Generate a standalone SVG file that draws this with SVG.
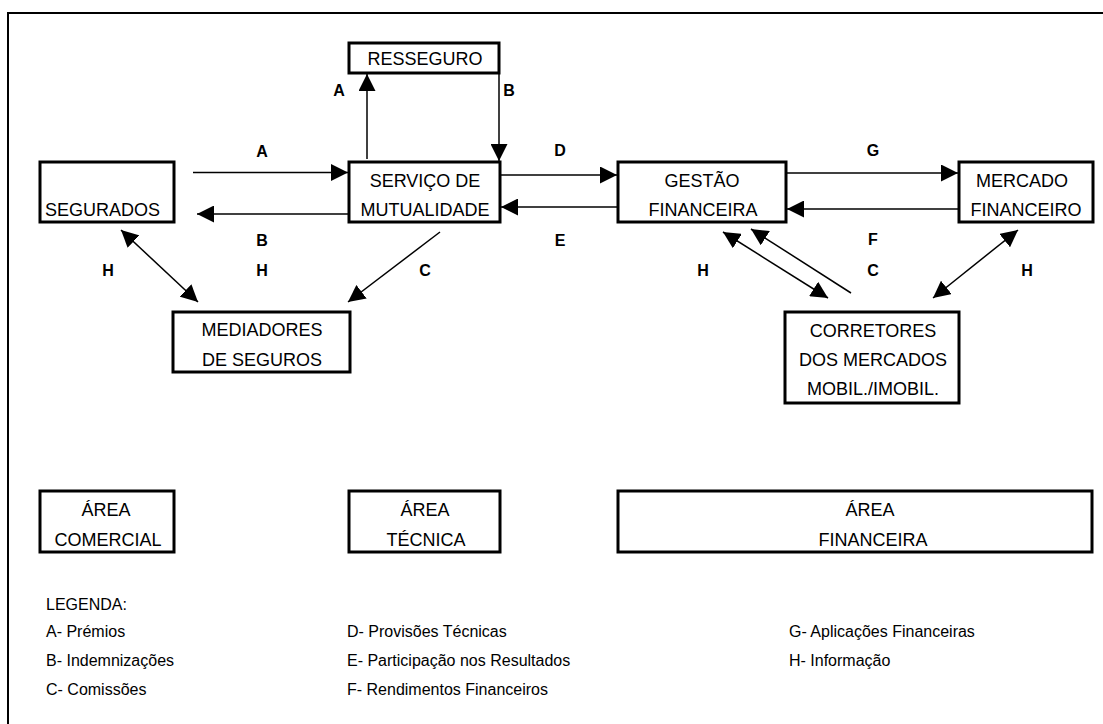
<svg xmlns="http://www.w3.org/2000/svg" width="1103" height="724" viewBox="0 0 1103 724">
<defs>
<marker id="ah" markerUnits="userSpaceOnUse" markerWidth="17" markerHeight="17" refX="17" refY="8.5" orient="auto-start-reverse">
<path d="M0,0 L17,8.5 L0,17 z" fill="#000"/>
</marker>
<style>
.box{fill:#fff;stroke:#000;stroke-width:3}
.t{font-family:"Liberation Sans",Arial,sans-serif;font-size:18px;fill:#000;text-anchor:middle}
.lab{font-family:"Liberation Sans",Arial,sans-serif;font-size:16px;font-weight:bold;fill:#000;text-anchor:middle}
.leg{font-family:"Liberation Sans",Arial,sans-serif;font-size:16px;fill:#000}
.c{fill:none;stroke:#000;stroke-width:1.5}
.one{marker-end:url(#ah)}
.two{marker-start:url(#ah);marker-end:url(#ah)}
</style>
</defs>
<rect width="1103" height="724" fill="#fff"/>
<path d="M8,724 V13 H1103" fill="none" stroke="#000" stroke-width="2"/>

<g id="connectors">
<line class="c one" x1="193" y1="172.5" x2="348" y2="172.5"/>
<line class="c one" x1="349" y1="214" x2="197" y2="214"/>
<line class="c one" x1="367" y1="159" x2="367" y2="74"/>
<line class="c one" x1="499" y1="74" x2="499" y2="161"/>
<line class="c one" x1="500" y1="175" x2="617" y2="175"/>
<line class="c one" x1="618" y1="207" x2="501" y2="207"/>
<line class="c one" x1="786" y1="173" x2="958" y2="173"/>
<line class="c one" x1="959" y1="209" x2="787" y2="209"/>
<line class="c two" x1="121" y1="230" x2="198" y2="302"/>
<line class="c one" x1="440" y1="232" x2="348" y2="302"/>
<line class="c two" x1="723" y1="232" x2="828" y2="298"/>
<line class="c one" x1="851" y1="293" x2="751" y2="229"/>
<line class="c two" x1="1018" y1="230" x2="933" y2="298"/>
</g>

<g id="labels">
<text class="lab" x="339" y="96">A</text>
<text class="lab" x="509" y="96">B</text>
<text class="lab" x="262" y="157">A</text>
<text class="lab" x="560" y="156">D</text>
<text class="lab" x="873" y="156">G</text>
<text class="lab" x="262" y="246">B</text>
<text class="lab" x="560" y="246">E</text>
<text class="lab" x="873" y="245">F</text>
<text class="lab" x="108" y="276">H</text>
<text class="lab" x="262" y="276">H</text>
<text class="lab" x="425" y="276">C</text>
<text class="lab" x="703" y="276">H</text>
<text class="lab" x="873" y="276">C</text>
<text class="lab" x="1027" y="276">H</text>
</g>

<g id="resseguro">
<rect class="box" x="349" y="43" width="150" height="30"/>
<text class="t" x="425" y="65">RESSEGURO</text>
</g>
<g id="segurados">
<rect class="box" x="40" y="162" width="134" height="60"/>
<text class="t" x="45" y="215.5" style="text-anchor:start">SEGURADOS</text>
</g>
<g id="servico">
<rect class="box" x="349" y="162" width="151" height="60"/>
<text class="t" x="425" y="186.5">SERVIÇO DE</text>
<text class="t" x="425" y="215.5">MUTUALIDADE</text>
</g>
<g id="gestao">
<rect class="box" x="618" y="162" width="168" height="60"/>
<text class="t" x="702" y="186.5">GESTÃO</text>
<text class="t" x="703" y="215.5">FINANCEIRA</text>
</g>
<g id="mercado">
<rect class="box" x="959" y="162" width="134" height="60"/>
<text class="t" x="1022" y="186.5">MERCADO</text>
<text class="t" x="1026" y="215.5">FINANCEIRO</text>
</g>
<g id="mediadores">
<rect class="box" x="173" y="312" width="177" height="60"/>
<text class="t" x="262" y="335.5">MEDIADORES</text>
<text class="t" x="262" y="365.5">DE SEGUROS</text>
</g>
<g id="corretores">
<rect class="box" x="785" y="312" width="174" height="91"/>
<text class="t" x="873" y="336.5">CORRETORES</text>
<text class="t" x="873" y="365.5">DOS MERCADOS</text>
<text class="t" x="873" y="394.5">MOBIL./IMOBIL.</text>
</g>
<g id="area-comercial">
<rect class="box" x="40" y="491" width="134" height="61"/>
<text class="t" x="106" y="516">ÁREA</text>
<text class="t" x="108" y="545.5">COMERCIAL</text>
</g>
<g id="area-tecnica">
<rect class="box" x="349" y="491" width="151" height="61"/>
<text class="t" x="425" y="516">ÁREA</text>
<text class="t" x="426" y="545.5">TÉCNICA</text>
</g>
<g id="area-financeira">
<rect class="box" x="618" y="491" width="474" height="61"/>
<text class="t" x="870" y="516">ÁREA</text>
<text class="t" x="873" y="545.5">FINANCEIRA</text>
</g>

<g id="legenda">
<text class="leg" x="46" y="610">LEGENDA:</text>
<text class="leg" x="46" y="637">A- Prémios</text>
<text class="leg" x="46" y="666">B- Indemnizações</text>
<text class="leg" x="46" y="695">C- Comissões</text>
<text class="leg" x="347" y="637">D- Provisões Técnicas</text>
<text class="leg" x="347" y="666">E- Participação nos Resultados</text>
<text class="leg" x="347" y="695">F- Rendimentos Financeiros</text>
<text class="leg" x="789" y="637">G- Aplicações Financeiras</text>
<text class="leg" x="789" y="666">H- Informação</text>
</g>
</svg>
